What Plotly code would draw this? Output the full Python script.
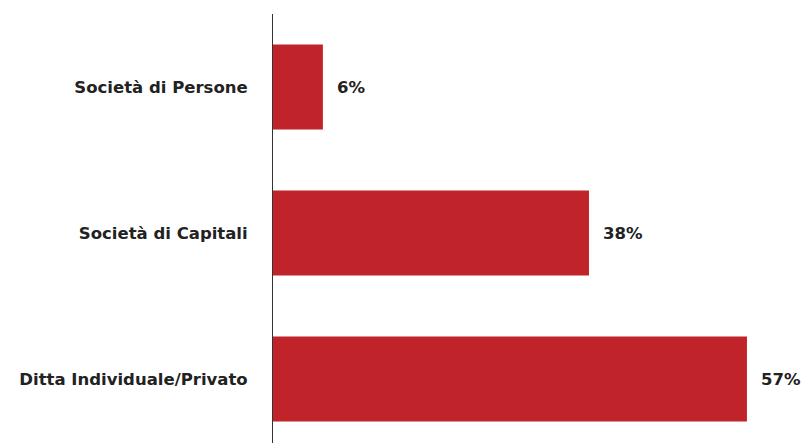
import plotly.graph_objects as go

categories = ["Società di Persone", "Società di Capitali", "Ditta Individuale/Privato"]
values = [6, 38, 57]
value_labels = ["6%", "38%", "57%"]

bar_color = "#C0232A"
text_color = "#222222"
font_family = "DejaVu Sans, sans-serif"
font_size = 16.5

fig = go.Figure(
    go.Bar(
        x=values,
        y=categories,
        orientation="h",
        marker=dict(color=bar_color, line=dict(width=0)),
        width=0.582,
        hoverinfo="skip",
    )
)

for cat, val, lab in zip(categories, values, value_labels):
    fig.add_annotation(
        x=val, y=cat, text=f"<b>{lab}</b>", showarrow=False,
        xanchor="left", yanchor="middle", xshift=12,
        font=dict(family=font_family, size=font_size, color=text_color),
    )

fig.update_layout(
    width=801, height=443,
    margin=dict(l=273, r=0, t=14, b=0),
    paper_bgcolor="white", plot_bgcolor="white",
    showlegend=False,
    xaxis=dict(range=[0, 63.5], visible=False, fixedrange=True),
    yaxis=dict(
        type="category",
        categoryorder="array", categoryarray=categories,
        range=[2.438, -0.5],
        showline=True, linecolor="#333333", linewidth=1,
        showgrid=False, zeroline=False, ticks="",
        ticklabelstandoff=21,
        tickfont=dict(family=font_family, size=font_size, color=text_color, weight="bold"),
    ),
)

fig.write_html("out.html")
